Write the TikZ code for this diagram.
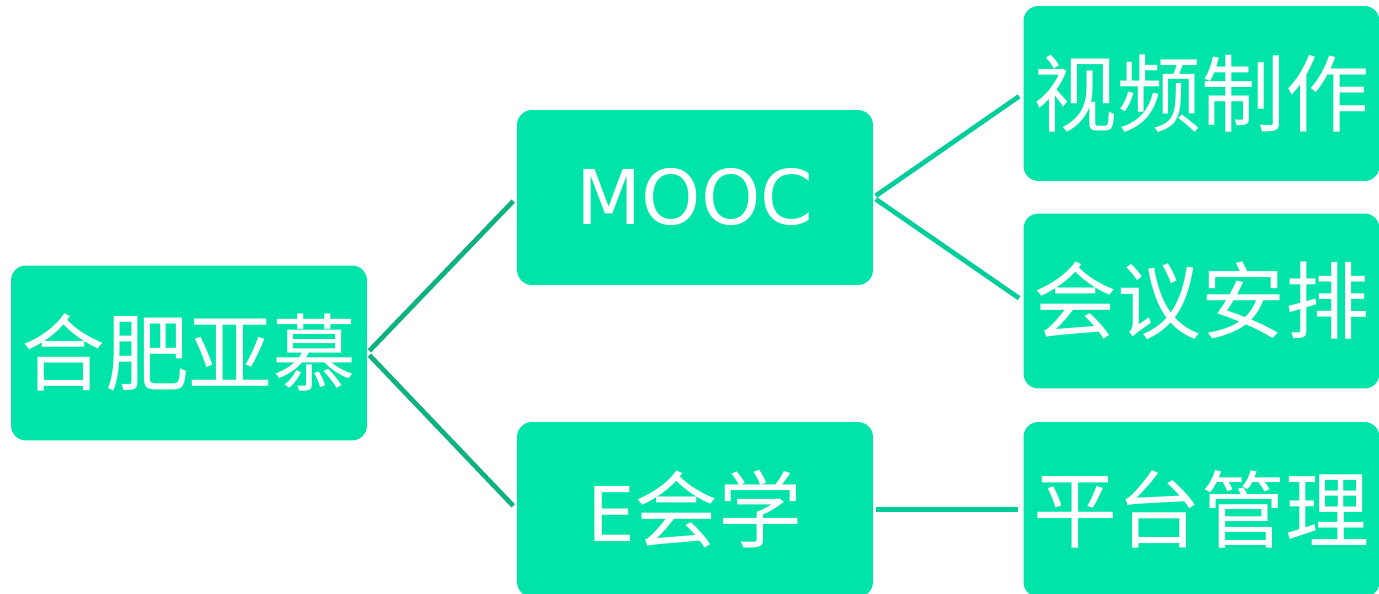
\documentclass[tikz,border=0pt]{standalone}
\usepackage{fontspec}
\newfontfamily\cjk{Noto Sans CJK SC}
\newfontfamily\latin{DejaVu Sans}
\definecolor{mint}{RGB}{0,228,170}
\definecolor{rootline}{RGB}{14,178,128}
\definecolor{leafline}{RGB}{0,206,154}
\tikzset{
  box/.style={fill=mint, rounded corners=0.3cm, minimum width=7.12cm, minimum height=3.5cm,
    inner sep=0pt, text=white, font=\cjk\fontsize{47.8}{50}\selectfont},
  link/.style={line width=0.095cm, shorten <=0.06cm, shorten >=0.1cm}
}
\begin{document}
\begin{tikzpicture}[x=0.02cm, y=-0.02cm]
        \useasboundingbox (0,0) rectangle (1379,594);
        \clip (0,0) rectangle (1379,594);
        \node[box] (root) at (189,353) {\raisebox{1.5pt}{合肥亚慕}};
        \node[box] (mooc) at (695,197.5) {\latin\fontsize{43}{46}\selectfont MOOC};
        \node[box] (ehx) at (695,509.5) {\raisebox{1.5pt}{{\latin\fontsize{43}{46}\selectfont E}会学}};
        \node[box] (video) at (1201.5,93.5) {\raisebox{1.5pt}{视频制作}};
        \node[box] (meet) at (1201.5,301) {\raisebox{1.5pt}{会议安排}};
        \node[box] (plat) at (1201.5,509.5) {\raisebox{1.5pt}{平台管理}};

        \draw[link, rootline] (root.east) -- (mooc.west);
        \draw[link, rootline] (root.east) -- (ehx.west);
        \draw[link, leafline] (mooc.east) -- (video.west);
        \draw[link, leafline] (mooc.east) -- (meet.west);
        \draw[link, leafline] (ehx.east) -- (plat.west);
    \end{tikzpicture}
\end{document}
